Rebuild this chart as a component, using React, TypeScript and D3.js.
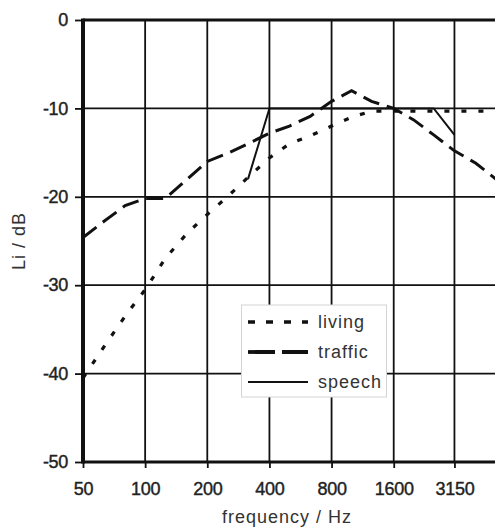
import React, { useEffect, useRef } from "react";
import * as d3 from "d3";

// 1/3-octave band centre frequencies (Hz)
const freqs = [50, 63, 80, 100, 125, 160, 200, 250, 315, 400, 500, 630, 800, 1000, 1250, 1600, 2000, 2500, 3150, 4000, 5000];
const living = [-40.5, -37, -33.5, -30.5, -27, -24.1, -22, -20, -17.8, -15.6, -14, -13.1, -12, -11, -10.3, -10.3, -10.3, -10.3, -10.3, -10.3, -10.3];
const traffic = [-24.6, -22.8, -21, -20.2, -20.2, -18, -16, -15.1, -14, -12.8, -12, -10.9, -9.2, -8, -9.2, -10, -11.3, -13, -14.8, -16.2, -18];
const speechFreqs = [315, 400, 500, 630, 800, 1000, 1250, 1600, 2000, 2500, 3150];
const speech = [-18, -10, -10, -10, -10, -10, -10, -10, -10, -10, -13];

const xTicks = [50, 100, 200, 400, 800, 1600, 3150];
const yTicks = [0, -10, -20, -30, -40, -50];

const legendItems = [
  { label: "living", dash: "7,11", width: 3.5 },
  { label: "traffic", dash: "27,7", width: 3.8 },
  { label: "speech", dash: null, width: 2.2 },
];

const W = 495;
const H = 530;

const App = () => {
  const svgRef = useRef<SVGSVGElement>(null);

  useEffect(() => {
    const svg = d3.select(svgRef.current);
    svg.selectAll("*").remove();

    const left = 83;
    const top = 20;
    const bottom = 462;

    const x = d3.scaleLog().base(2).domain([50, 6400]).range([left, 518]);
    const y = d3.scaleLinear().domain([-50, 0]).range([bottom, top]);

    const ink = "#111";
    const sans = "'Liberation Sans', Arial, sans-serif";

    // grid
    svg
      .append("g")
      .selectAll("line")
      .data(yTicks.filter((d) => d !== 0 && d !== -50))
      .enter()
      .append("line")
      .attr("x1", left)
      .attr("x2", W)
      .attr("y1", (d) => y(d))
      .attr("y2", (d) => y(d))
      .attr("stroke", ink)
      .attr("stroke-width", 1.8);

    svg
      .append("g")
      .selectAll("line")
      .data(xTicks.slice(1))
      .enter()
      .append("line")
      .attr("x1", (d) => x(d))
      .attr("x2", (d) => x(d))
      .attr("y1", top)
      .attr("y2", bottom)
      .attr("stroke", ink)
      .attr("stroke-width", 1.8);

    // frame
    svg.append("line").attr("x1", left).attr("x2", W).attr("y1", top).attr("y2", top)
      .attr("stroke", ink).attr("stroke-width", 3);
    svg.append("line").attr("x1", left).attr("x2", W).attr("y1", bottom).attr("y2", bottom)
      .attr("stroke", ink).attr("stroke-width", 3);
    svg.append("line").attr("x1", left).attr("x2", left).attr("y1", top - 1.5).attr("y2", bottom + 1.5)
      .attr("stroke", ink).attr("stroke-width", 4);

    // axes
    const yAxis = svg
      .append("g")
      .attr("transform", `translate(${left},0)`)
      .call(d3.axisLeft(y).tickValues(yTicks).tickSize(8).tickPadding(7).tickFormat((d) => String(d)));
    yAxis.select(".domain").remove();

    const xAxis = svg
      .append("g")
      .attr("transform", `translate(0,${bottom})`)
      .call(d3.axisBottom(x).tickValues(xTicks).tickSize(6).tickPadding(14).tickFormat((d) => String(d)));
    xAxis.select(".domain").remove();

    [yAxis, xAxis].forEach((g) => {
      g.selectAll("line").attr("stroke", ink).attr("stroke-width", 1.8);
      g.selectAll("text")
        .attr("fill", "#222")
        .attr("stroke", "#222")
        .attr("stroke-width", 0.4)
        .style("font-family", sans)
        .style("font-size", "18px")
        .style("letter-spacing", "-0.3px");
    });

    // series
    const line = d3
      .line<number>()
      .x((d, i) => x(freqs[i]))
      .y((d) => y(d));

    svg
      .append("path")
      .attr("d", line(living))
      .attr("fill", "none")
      .attr("stroke", ink)
      .attr("stroke-width", 3.2)
      .attr("stroke-dasharray", "5,12");

    svg
      .append("path")
      .attr("d", line(traffic))
      .attr("fill", "none")
      .attr("stroke", ink)
      .attr("stroke-width", 3)
      .attr("stroke-dasharray", "17,8");

    const speechLine = d3
      .line<number>()
      .x((d, i) => x(speechFreqs[i]))
      .y((d) => y(d));

    svg
      .append("path")
      .attr("d", speechLine(speech))
      .attr("fill", "none")
      .attr("stroke", ink)
      .attr("stroke-width", 2);

    // legend
    const lg = svg.append("g");
    lg.append("rect")
      .attr("x", 241.5)
      .attr("y", 305)
      .attr("width", 145)
      .attr("height", 92)
      .attr("fill", "#fff")
      .attr("stroke", "#d4d4d4")
      .attr("stroke-width", 1);

    const rows = lg
      .selectAll("g")
      .data(legendItems)
      .enter()
      .append("g")
      .attr("transform", (d, i) => `translate(0,${322 + i * 30})`);

    rows
      .append("line")
      .attr("x1", 248)
      .attr("x2", 308)
      .attr("y1", 0)
      .attr("y2", 0)
      .attr("stroke", ink)
      .attr("stroke-width", (d) => d.width)
      .attr("stroke-dasharray", (d) => d.dash);

    rows
      .append("text")
      .attr("x", 318)
      .attr("y", 6)
      .attr("fill", "#333")
      .style("font-family", sans)
      .style("font-size", "18px")
      .style("letter-spacing", "1px")
      .text((d) => d.label);

    // titles
    svg
      .append("text")
      .attr("transform", `translate(25,241) rotate(-90)`)
      .attr("text-anchor", "middle")
      .attr("fill", "#333")
      .style("font-family", sans)
      .style("font-size", "18px")
      .style("letter-spacing", "1px")
      .text("Li / dB");

    svg
      .append("text")
      .attr("x", 287)
      .attr("y", 523)
      .attr("text-anchor", "middle")
      .attr("fill", "#333")
      .style("font-family", sans)
      .style("font-size", "18px")
      .style("letter-spacing", "1px")
      .text("frequency / Hz");
  }, []);

  return (
    <svg
      ref={svgRef}
      width={W}
      height={H}
      style={{ position: "absolute", left: 0, top: 0, overflow: "hidden", background: "#fff" }}
    />
  );
};

export default App;
